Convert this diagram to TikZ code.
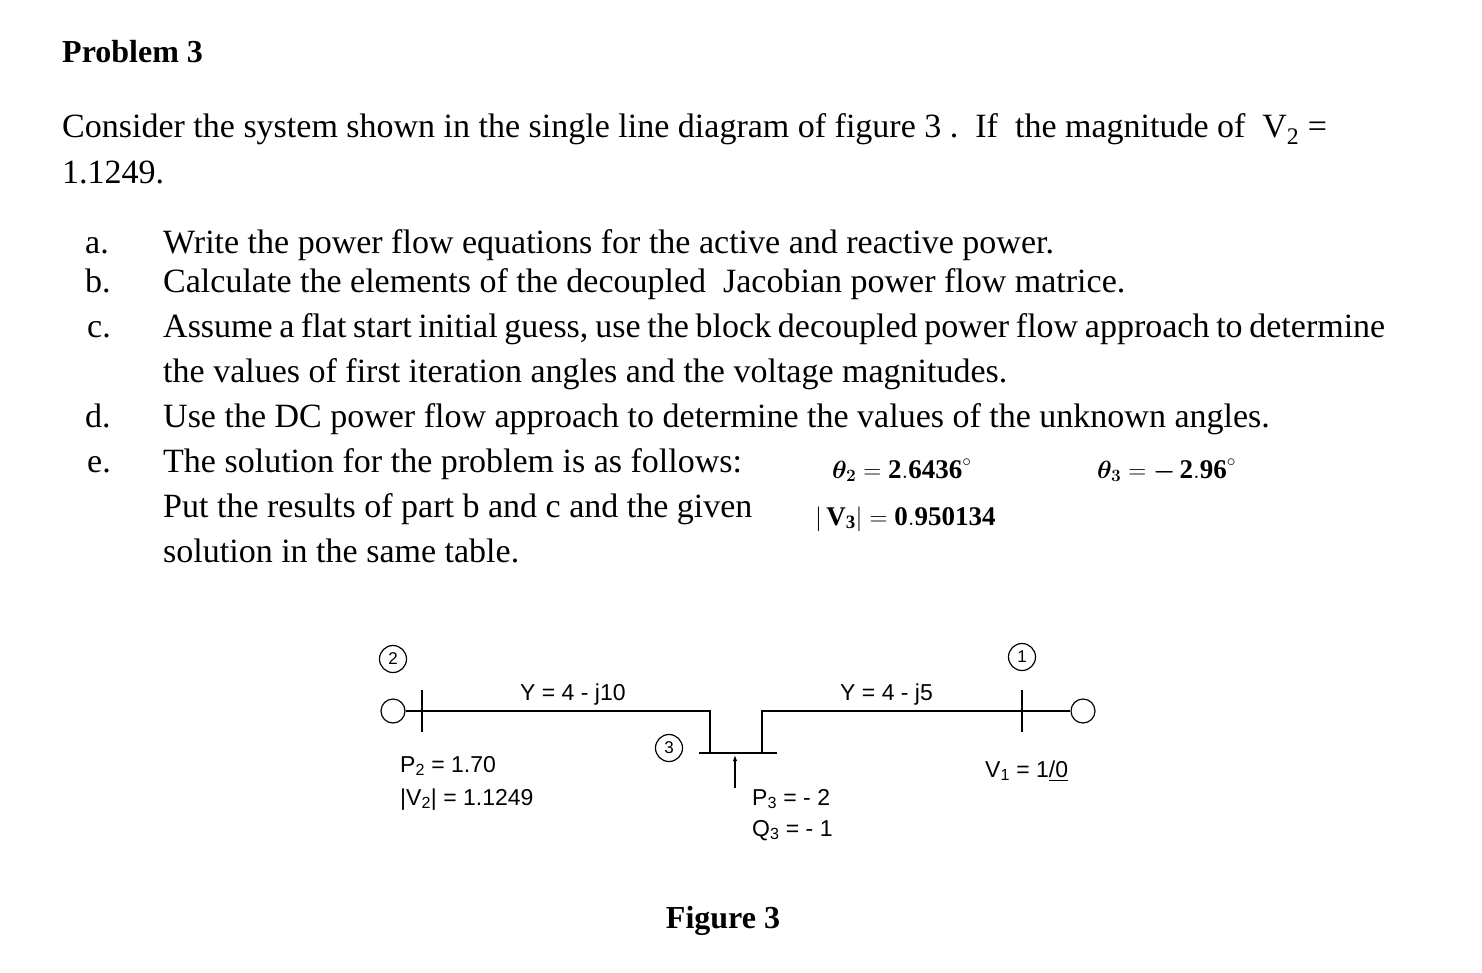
\documentclass[tikz,border=0pt]{standalone}
\usepackage{amsmath,amsbsy}
\usepackage{fontspec}
\setmainfont{Liberation Serif}
\newfontfamily\dsans{Liberation Sans}
\usetikzlibrary{arrows.meta}
\begin{document}
\begin{tikzpicture}[x=1pt,y=-1pt,
  body/.style={anchor=base west,inner sep=0pt,font=\fontsize{34}{40}\selectfont},
  mth/.style={anchor=base west,inner sep=0pt,font=\fontsize{27}{30}\selectfont\bfseries},
  lab/.style={anchor=base west,inner sep=0pt,font=\dsans\fontsize{23}{26}\selectfont},
  circ/.style={circle,draw,line width=1.2pt,minimum size=27pt,inner sep=0pt,font=\dsans\fontsize{17}{18}\selectfont},
  gen/.style={circle,draw,line width=1.2pt,minimum size=24pt,inner sep=0pt},
  wire/.style={line width=1.5pt}]
\useasboundingbox (0,0) rectangle (1482,972);
\node[body,font=\fontsize{32}{36}\selectfont\bfseries] (t) at (62,62) {Problem 3};
\node[body,text width=1328pt,align=justify] (l1) at (62,137) {Consider the system shown in the single line diagram of figure 3 .\ \ If\ \ the magnitude of\ \ V\textsubscript{2} =};
\node[body] (l2) at (62,183) {1.1249.};
\node[body] (ma) at (85,253) {a.}; \node[body] (ta) at (163,253) {Write the power flow equations for the active and reactive power.};
\node[body] (mb) at (85,292) {b.}; \node[body] (tb) at (163,292) {Calculate the elements of the decoupled\ \ Jacobian power flow matrice.};
\node[body] (mc) at (87,337) {c.}; \node[body] (tc) at (163,337) {\makebox[1222pt][s]{Assume a flat start initial guess, use the block decoupled power flow approach to determine}};
\node[body] (tc2) at (163,382) {the values of first iteration angles and the voltage magnitudes.};
\node[body] (md) at (85,427) {d.}; \node[body] (td) at (163,427) {Use the DC power flow approach to determine the values of the unknown angles.};
\node[body] (me) at (87,472) {e.}; \node[body] (te) at (163,472) {The solution for the problem is as follows:};
\node[body] (te2) at (163,517) {Put the results of part b and c and the given};
\node[body] (te3) at (163,562) {solution in the same table.};
\node[mth] (th2) at (832,478) {$\boldsymbol{\theta_2}=\mathbf{2.6436}^\circ$};
\node[mth] (th3) at (1097,478) {$\boldsymbol{\theta_3}=\boldsymbol{-}\,\mathbf{2.96}^\circ$};
\node[mth] (v3) at (815,525) {$|\,\mathbf{V_3}|=\mathbf{0.950134}$};
% diagram
\node[gen] (g2) at (393,711) {};
\node[gen] (g1) at (1083,711) {};
\coordinate (b2t) at (422,690); \coordinate (b2b) at (422,732);
\coordinate (b1t) at (1022,690); \coordinate (b1b) at (1022,732);
\draw[wire] (b2t) -- (b2b); \draw[wire] (b1t) -- (b1b);
\coordinate (b3l) at (699,753); \coordinate (b3r) at (777,753);
\draw[wire] (b3l) -- (b3r);
\coordinate (k2) at (710,711); \coordinate (k1) at (762,711);
\draw[wire] (g2.east) -- (k2) -- (710,753);
\draw[wire] (g1.west) -- (k1) -- (762,753);
\coordinate (ab) at (735,788); \coordinate (at) at (735,755);
\draw[line width=1.2pt,-{Latex[length=6pt]}] (ab) -- (at);
\node[circ] (c2) at (393,659) {2};
\node[circ] (c1) at (1022,657) {1};
\node[circ] (c3) at (669,748) {3};
\node[lab] (y1) at (520,700) {Y = 4 - j10};
\node[lab] (y2) at (840,700) {Y = 4 - j5};
\node[lab] (p2) at (400,772) {P\textsubscript{2} = 1.70};
\node[lab] (v2) at (400,805) {|V\textsubscript{2}| = 1.1249};
\node[lab] (p3) at (752,805) {P\textsubscript{3} = - 2};
\node[lab] (q3) at (752,836) {Q\textsubscript{3} = - 1};
\node[lab] (v1) at (985,777) {V\textsubscript{1} = 1\underline{/0}};
\node[body,font=\fontsize{32}{36}\selectfont\bfseries,anchor=base] (fig) at (723,928) {Figure 3};
\end{tikzpicture}
\end{document}
